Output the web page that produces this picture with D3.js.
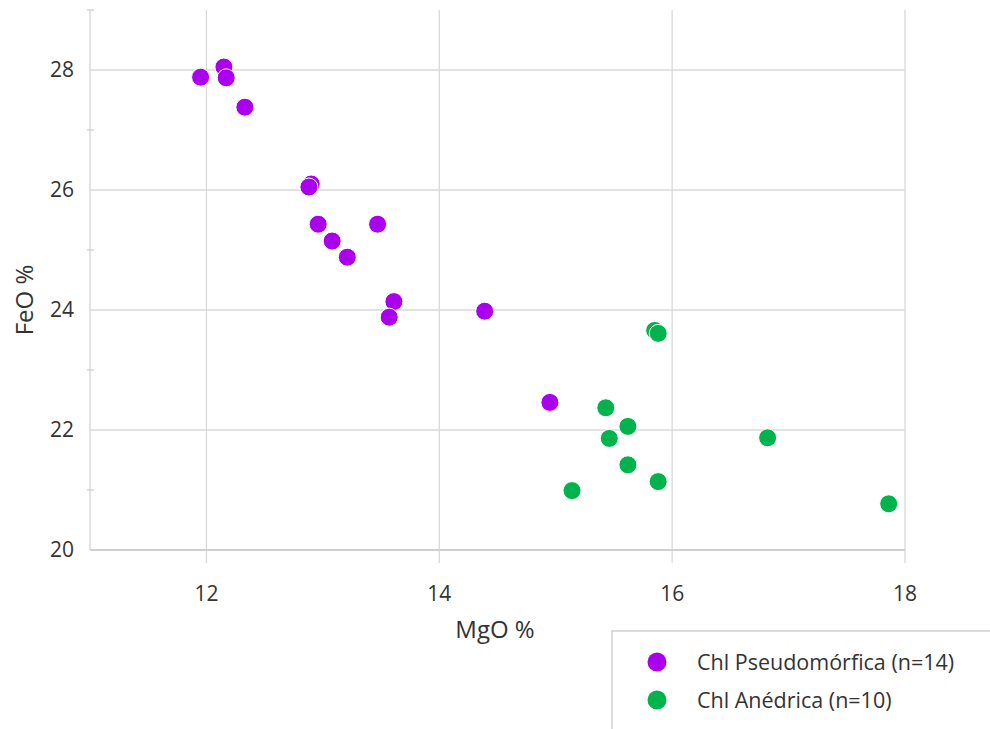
<!DOCTYPE html>
<html>
<head>
<meta charset="utf-8">
<script src="https://cdn.jsdelivr.net/npm/d3@7"></script>
<style>
  body { margin: 0; background: #fff; }
  text { font-family: "Open Sans", "Noto Sans", sans-serif; fill: #333; }
</style>
</head>
<body>
<div id="container"></div>
<script>
const width = 990, height = 729;

// Chl Pseudomórfica (n=14)
const pseudoMgO = [11.95, 12.15, 12.17, 12.33, 12.90, 12.88, 12.96, 13.08, 13.21, 13.47, 13.61, 13.57, 14.39, 14.95];
const pseudoFeO = [27.88, 28.05, 27.87, 27.38, 26.10, 26.05, 25.43, 25.15, 24.88, 25.43, 24.14, 23.88, 23.98, 22.46];
// Chl Anédrica (n=10)
const anedMgO = [15.85, 15.88, 15.43, 15.62, 15.46, 15.62, 15.88, 15.14, 16.82, 17.86];
const anedFeO = [23.66, 23.61, 22.37, 22.06, 21.86, 21.42, 21.14, 20.99, 21.87, 20.77];

const seriesNames = ["Chl Pseudomórfica (n=14)", "Chl Anédrica (n=10)"];
const seriesColors = ["#aa00ee", "#00b34d"];
const xTicks = [12, 14, 16, 18];
const yTicks = [20, 22, 24, 26, 28];

const margin = { left: 90, right: 85, top: 10, bottom: 179 };

const svg = d3.select("#container").append("svg")
    .attr("width", width).attr("height", height);

const x = d3.scaleLinear().domain([11, 18]).range([margin.left, width - margin.right]);
const y = d3.scaleLinear().domain([20, 29]).range([height - margin.bottom, margin.top]);

const grid = svg.append("g");

// horizontal gridlines
grid.selectAll("line.h").data(yTicks.slice(1)).join("line")
    .attr("x1", x(11)).attr("x2", x(18))
    .attr("y1", d => y(d)).attr("y2", d => y(d))
    .attr("stroke", "#d9d9d9").attr("stroke-width", 1.3);

// vertical gridlines, running past the axis as ticks
grid.selectAll("line.v").data(xTicks).join("line")
    .attr("x1", d => x(d)).attr("x2", d => x(d))
    .attr("y1", y(29)).attr("y2", y(20) + 13)
    .attr("stroke", "#d9d9d9").attr("stroke-width", 1.3);

// axis lines
svg.append("line")
    .attr("x1", x(11)).attr("x2", x(18)).attr("y1", y(20)).attr("y2", y(20))
    .attr("stroke", "#d0d0d0").attr("stroke-width", 2);
svg.append("line")
    .attr("x1", x(11)).attr("x2", x(11)).attr("y1", y(29)).attr("y2", y(20))
    .attr("stroke", "#d9d9d9").attr("stroke-width", 1.5);

// minor ticks on y axis
svg.selectAll("line.minor").data(d3.range(21, 30, 2)).join("line")
    .attr("x1", x(11) - 3).attr("x2", x(11) + 4)
    .attr("y1", d => y(d)).attr("y2", d => y(d))
    .attr("stroke", "#d0d0d0").attr("stroke-width", 1.3);

// tick labels
svg.selectAll("text.xt").data(xTicks).join("text")
    .attr("x", d => x(d)).attr("y", 594).attr("dy", "0.35em")
    .attr("text-anchor", "middle").attr("font-size", 21)
    .text(d => d);
svg.selectAll("text.yt").data(yTicks).join("text")
    .attr("x", x(11) - 16).attr("y", d => y(d)).attr("dy", "0.35em")
    .attr("text-anchor", "end").attr("font-size", 21)
    .text(d => d);

// axis titles
svg.append("text")
    .attr("x", 495).attr("y", 638)
    .attr("text-anchor", "middle").attr("font-size", 24)
    .text("MgO %");
svg.append("text")
    .attr("transform", "translate(33,300) rotate(-90)")
    .attr("text-anchor", "middle").attr("font-size", 24)
    .text("FeO %");

// points
const series = [
  d3.zip(pseudoMgO, pseudoFeO),
  d3.zip(anedMgO, anedFeO)
];
series.forEach((pts, i) => {
  svg.append("g").selectAll("circle").data(pts).join("circle")
      .attr("cx", d => x(d[0])).attr("cy", d => y(d[1]))
      .attr("r", 9)
      .attr("fill", seriesColors[i])
      .attr("stroke", "#fff").attr("stroke-width", 1);
});

// legend
const legend = svg.append("g");
legend.append("rect")
    .attr("x", 612).attr("y", 631).attr("width", 400).attr("height", 120)
    .attr("fill", "#fff").attr("stroke", "#d0d0d0").attr("stroke-width", 1.5);
seriesNames.forEach((name, i) => {
  const ly = 662 + i * 38;
  legend.append("circle").attr("cx", 657).attr("cy", ly).attr("r", 9.5)
      .attr("fill", seriesColors[i]);
  legend.append("text").attr("x", 697).attr("y", ly).attr("dy", "0.35em")
      .attr("font-size", 21.5).text(name);
});
</script>
</body>
</html>
